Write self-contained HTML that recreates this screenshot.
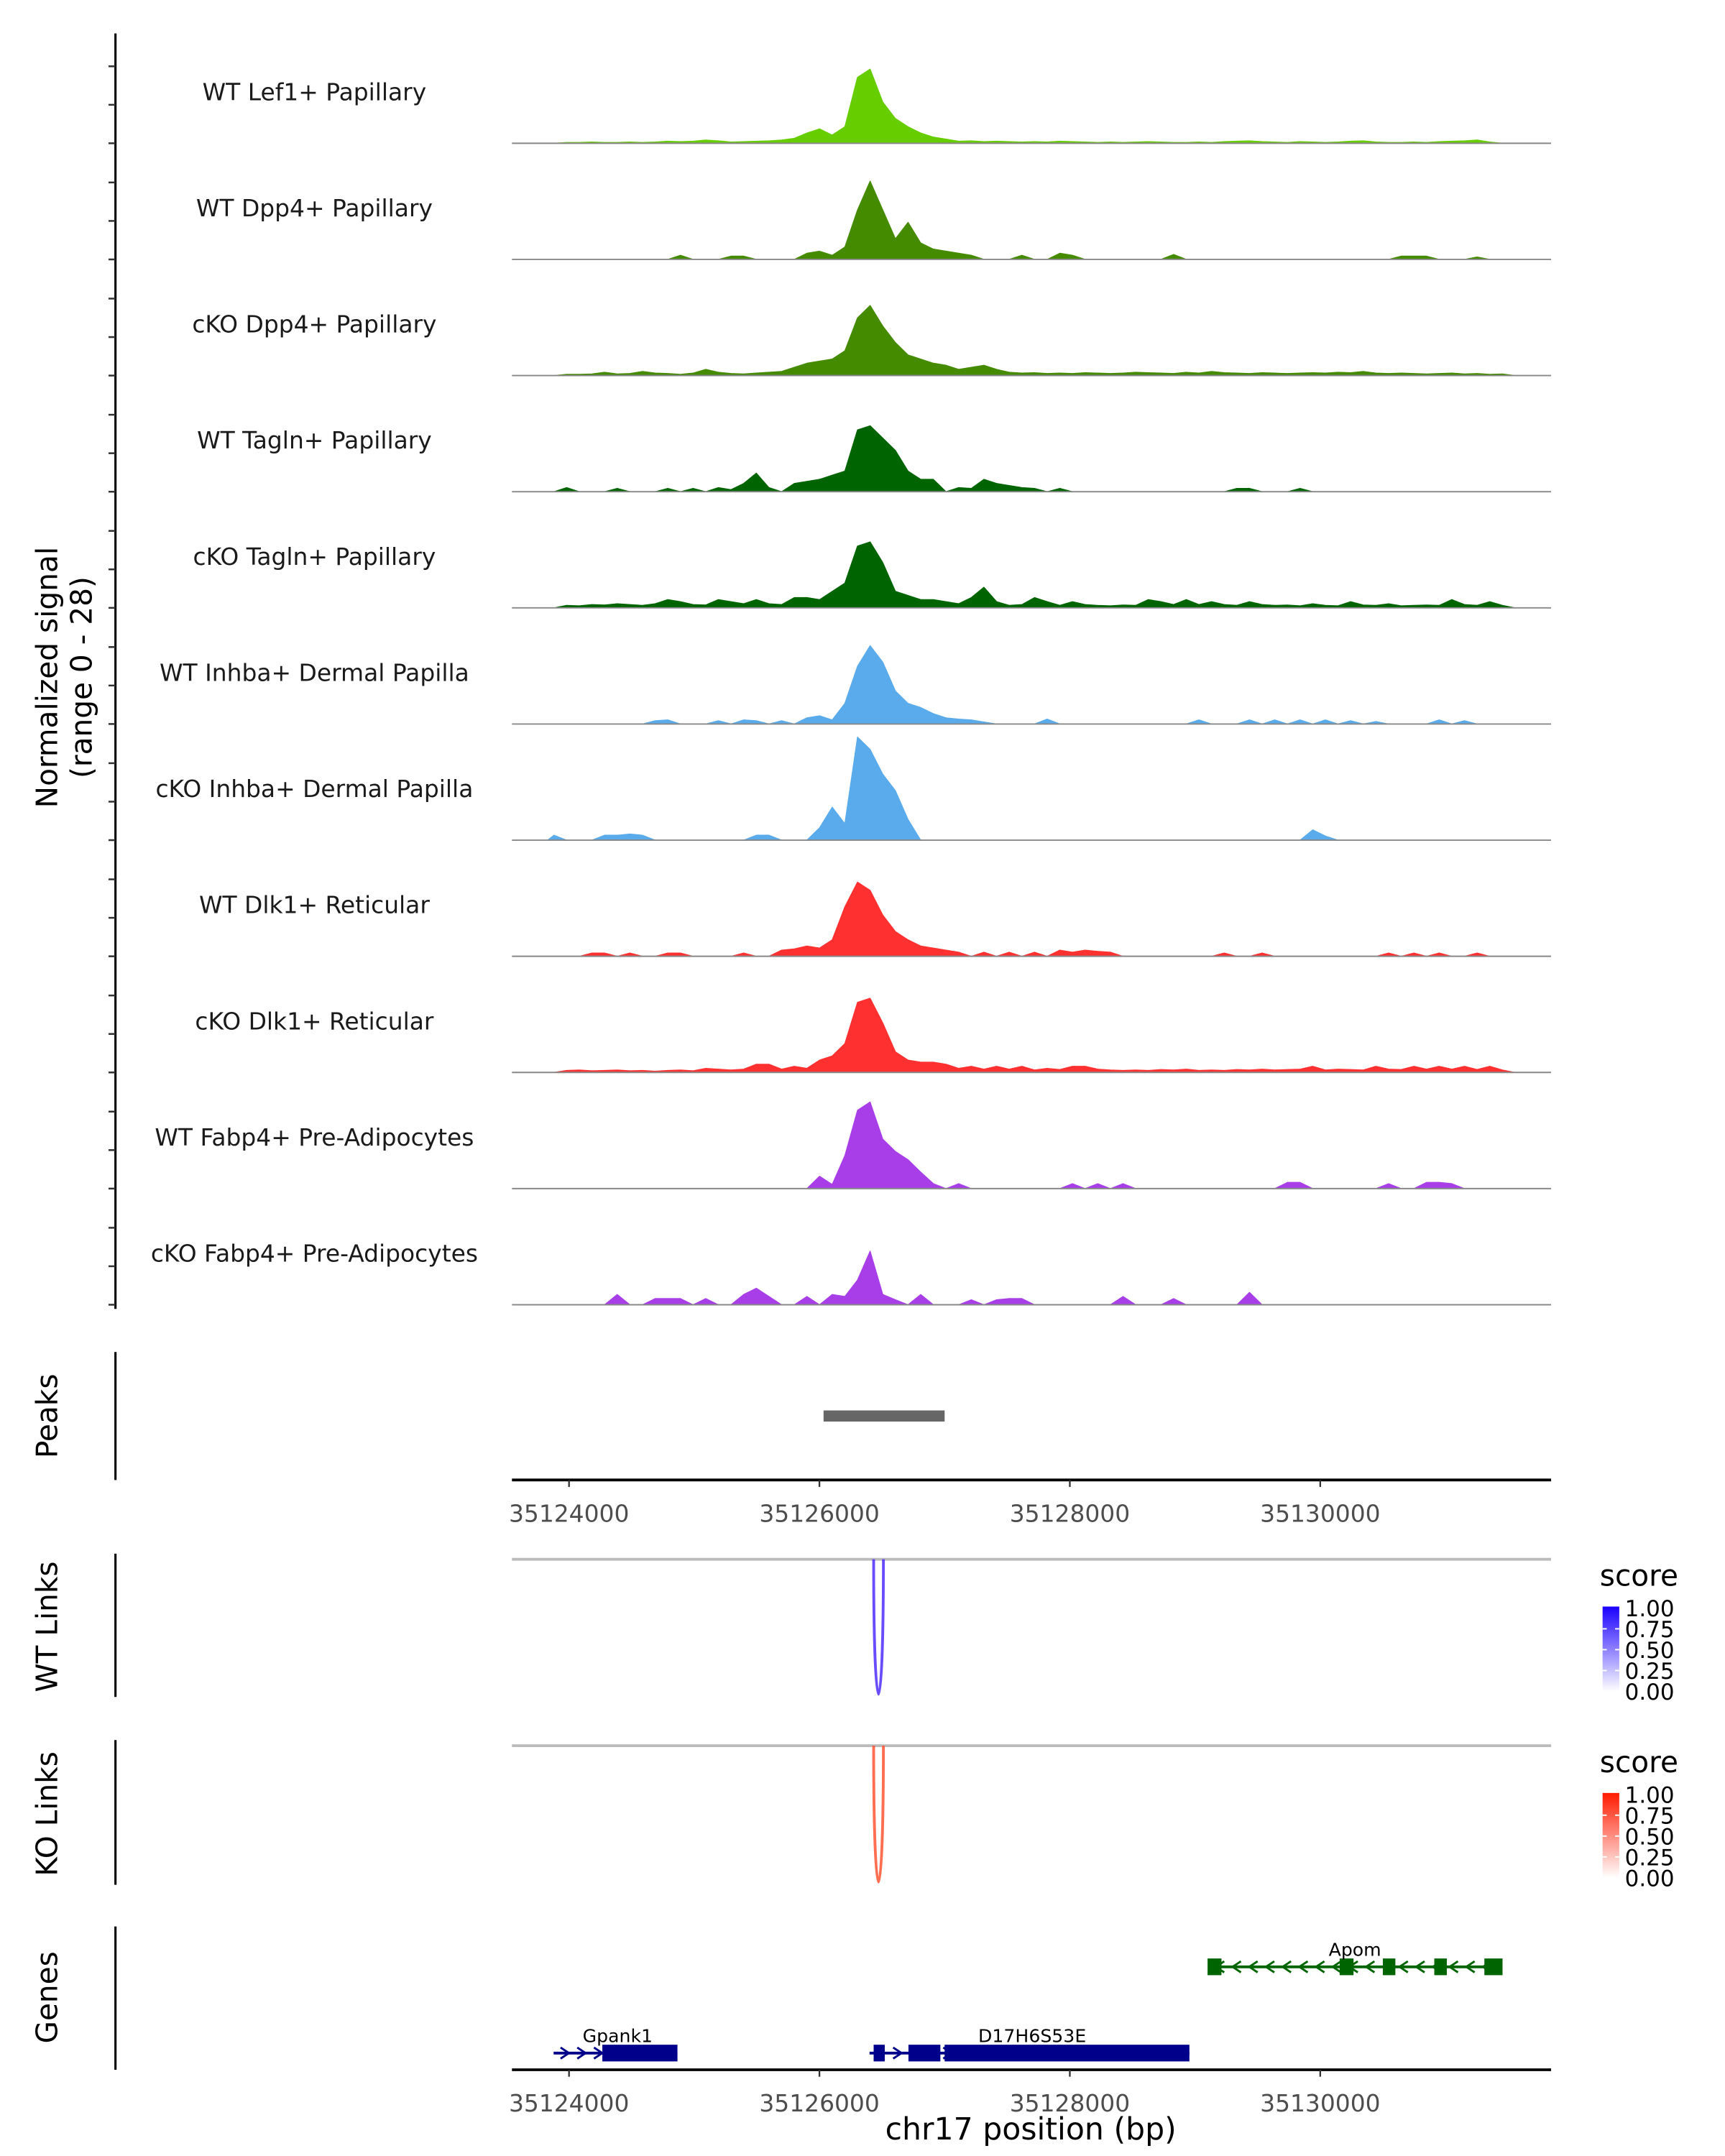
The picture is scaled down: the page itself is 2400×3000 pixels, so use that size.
<!DOCTYPE html>
<html><head><meta charset="utf-8"><style>
html,body{margin:0;padding:0;background:#fff;}
svg{display:block;font-family:"DejaVu Sans","Liberation Sans",sans-serif;}
</style></head><body>
<svg id="chart" width="2400" height="3000" viewBox="0 0 1240 1550" xmlns="http://www.w3.org/2000/svg">
<defs>
<linearGradient id="gBlue" x1="0" y1="1" x2="0" y2="0"><stop offset="0" stop-color="#ffffff"/><stop offset="1" stop-color="#1a00ff"/></linearGradient>
<linearGradient id="gRed" x1="0" y1="1" x2="0" y2="0"><stop offset="0" stop-color="#ffffff"/><stop offset="1" stop-color="#ff1a00"/></linearGradient>
</defs>
</svg>
<script>
// ---- data ----
const trackNames = ["WT Lef1+ Papillary","WT Dpp4+ Papillary","cKO Dpp4+ Papillary","WT Tagln+ Papillary","cKO Tagln+ Papillary","WT Inhba+ Dermal Papilla","cKO Inhba+ Dermal Papilla","WT Dlk1+ Reticular","cKO Dlk1+ Reticular","WT Fabp4+ Pre-Adipocytes","cKO Fabp4+ Pre-Adipocytes"];
const trackColors = ["#66cd00","#458b00","#458b00","#006400","#006400","#5aabeb","#5aabeb","#ff3030","#ff3030","#a83ee8","#a83ee8"];
const binStart = 35123880;
const binSize = 101;
const sigLef1 = [0,0.2,0.2,0.3,0.2,0.2,0.3,0.2,0.3,0.5,0.4,0.5,0.8,0.6,0.3,0.4,0.5,0.6,0.8,1.2,2.5,3.5,2,4,16,18,10,6,4,2.5,1.5,1,0.5,0.6,0.4,0.5,0.4,0.3,0.4,0.3,0.5,0.4,0.3,0.2,0.3,0.2,0.3,0.4,0.3,0.2,0.2,0.3,0.2,0.4,0.5,0.6,0.4,0.3,0.2,0.4,0.3,0.2,0.3,0.5,0.6,0.3,0.2,0.2,0.3,0.2,0.4,0.5,0.6,0.8,0.3,0,0,0];
const sigWtDpp4 = [0,0,0,0,0,0,0,0,0,0,1,0,0,0,0.8,0.8,0,0,0,0,1.5,2,1,3,12,19,12,5,9,4,2.5,2,1.5,1,0,0,0,1,0,0,1.5,1,0,0,0,0,0,0,0,1.2,0,0,0,0,0,0,0,0,0,0,0,0,0,0,0,0,0,0.8,0.8,0.8,0,0,0,0.6,0,0,0,0];
const sigKoDpp4 = [0,0.3,0.3,0.4,0.8,0.4,0.5,1,0.6,0.5,0.3,0.6,1.5,0.8,0.5,0.4,0.6,0.8,1,2,3,3.5,4,6,14,17,12,8,5,4,3,2.5,1.5,2,2.5,1.5,0.8,0.6,0.7,0.5,0.6,0.5,0.7,0.6,0.5,0.6,0.8,0.7,0.6,0.5,0.8,0.6,1,0.7,0.6,0.5,0.7,0.6,0.5,0.6,0.7,0.6,0.8,0.7,1,0.6,0.5,0.6,0.5,0.4,0.5,0.6,0.4,0.5,0.3,0.4,0,0];
const sigWtTagln = [0,1,0,0,0,0.8,0,0,0,0.8,0,0.8,0,1,0.5,2,4.5,1,0,2,2.5,3,4,5,15,16,13,10,5,3,3,0,1,0.8,3,2,1.5,1,0.8,0,0.8,0,0,0,0,0,0,0,0,0,0,0,0,0,0.8,0.8,0,0,0,0.8,0,0,0,0,0,0,0,0,0,0,0,0,0,0,0,0,0,0];
const sigKoTagln = [0,0.6,0.5,0.8,0.7,1,0.8,0.6,1,2,1.5,0.8,0.7,2,1.5,1,2,1,0.8,2.5,2.5,2,4,6,15,16,11,4,3,2,2,1.5,1,2.5,5,1.5,0.6,0.8,2.5,1.5,0.6,1.5,0.8,0.6,0.5,0.7,0.6,2,1.5,0.8,2,0.8,1.5,0.8,0.6,1.5,0.8,0.6,0.7,0.5,1,0.6,0.5,1.5,0.7,0.6,1,0.5,0.6,0.7,0.6,2,0.8,0.6,1.5,0.6,0,0];
const sigWtInhba = [0,0,0,0,0,0,0,0,0.8,1,0,0,0,0.8,0,1,0.8,0,0.8,0,1.5,2,1,5,14,19,15,8,5,4,2.5,1.5,1.2,1,0.5,0,0,0,0,1.2,0,0,0,0,0,0,0,0,0,0,0,1,0,0,0,1,0,1,0,1,0,1,0,0.8,0,0.6,0,0,0,0,1,0,0.8,0,0,0,0,0];
const sigKoInhba = [1.2,0,0,0,1.2,1.2,1.5,1.2,0,0,0,0,0,0,0,0,1.2,1.2,0,0,0,3,8,4,25,22,16,12,5,0,0,0,0,0,0,0,0,0,0,0,0,0,0,0,0,0,0,0,0,0,0,0,0,0,0,0,0,0,0,0,2.5,1,0,0,0,0,0,0,0,0,0,0,0,0,0,0,0,0];
const sigWtDlk1 = [0,0,0,0.8,0.8,0,0.8,0,0,0.8,0.8,0,0,0,0,0.8,0,0,1.5,1.8,2.5,2,4,12,18,16,10,6,4,2.5,2,1.5,1,0,1,0,1,0,1,0,1.5,1,1.5,1.2,1,0,0,0,0,0,0,0,0,0.8,0,0,0.8,0,0,0,0,0,0,0,0,0,0.8,0,0.8,0,0.8,0,0,0.8,0,0,0,0];
const sigKoDlk1 = [0,0.5,0.6,0.4,0.5,0.6,0.4,0.5,0.3,0.5,0.6,0.4,1,0.8,0.6,0.8,2,2,0.8,1.5,1,3,4,7,17,18,12,5,3,2.5,2.5,2,1,1.5,0.8,1.5,0.8,1.5,0.6,1,0.7,1.5,1.5,0.8,0.6,0.5,0.6,0.5,0.7,0.6,0.8,0.5,0.6,0.5,0.7,0.6,0.8,0.6,0.7,0.8,1.5,0.6,0.8,0.7,0.6,1.5,0.8,0.7,1.5,0.8,1.5,0.8,1.5,0.7,1.5,0.6,0,0];
const sigWtFabp4 = [0,0,0,0,0,0,0,0,0,0,0,0,0,0,0,0,0,0,0,0,0,3,1,8,19,21,12,9,7,4,1.2,0,1.2,0,0,0,0,0,0,0,0,1.2,0,1.2,0,1.2,0,0,0,0,0,0,0,0,0,0,0,0,1.5,1.5,0,0,0,0,0,0,1.2,0,0,1.5,1.5,1.2,0,0,0,0,0,0];
const sigKoFabp4 = [0,0,0,0,0,2.5,0,0,1.5,1.5,1.5,0,1.5,0,0,2.5,4,2,0,0,2,0,2.5,2,6,13,2.5,1.2,0,2.5,0,0,0,1.2,0,1.2,1.5,1.5,0,0,0,0,0,0,0,2,0,0,0,1.5,0,0,0,0,0,3,0,0,0,0,0,0,0,0,0,0,0,0,0,0,0,0,0,0,0,0,0,0];
const trackSignals = [sigLef1,sigWtDpp4,sigKoDpp4,sigWtTagln,sigKoTagln,sigWtInhba,sigKoInhba,sigWtDlk1,sigKoDlk1,sigWtFabp4,sigKoFabp4];
const signalMax = 28;
const xTicks = [35124000,35126000,35128000,35130000];
const peakStarts = [35126033];
const peakEnds = [35127000];
const wtLinkStart = [35126433]; const wtLinkEnd = [35126511]; const wtLinkScore = [0.8];
const koLinkStart = [35126433]; const koLinkEnd = [35126511]; const koLinkScore = [0.75];
const legendTicks = ["1.00","0.75","0.50","0.25","0.00"];
const geneNames = ["Apom","Gpank1","D17H6S53E"];
const geneStarts = [35129111,35123877,35126400];
const geneEnds = [35131444,35124866,35128955];
const geneStrand = [-1,1,1];
const geneRow = [0,1,1];
const geneColors = ["#006400","#00008b","#00008b"];
const exonGene = [0,0,0,0,0,1,2,2,2];
const exonStarts = [35129100,35130155,35130500,35130911,35131311,35124266,35126433,35126711,35127000];
const exonEnds = [35129211,35130266,35130600,35131011,35131456,35124866,35126522,35126966,35128955];

// ---- scales ----
const X0=368, X1=1115, BP0=35123544, BP1=35131844;
const xs = bp => X0 + (bp-BP0)*(X1-X0)/(BP1-BP0);
const trackBase = i => 103 + i*83.5;
const trackH = 83;
const ys = (i,v) => trackBase(i) - v/signalMax*trackH;

const svg=document.getElementById('chart');
const NS="http://www.w3.org/2000/svg";
function mk(tag,attrs,parent){const e=document.createElementNS(NS,tag);for(const k in attrs)e.setAttribute(k,attrs[k]);(parent||svg).appendChild(e);return e;}
function txt(s,attrs,parent){const e=mk('text',attrs,parent);e.textContent=s;return e;}

// left signal axis
let g=mk('g',{});


mk('line',{x1:83,y1:24,x2:83,y2:941,stroke:'#000','stroke-width':1.6},g);
for(let i=0;i<trackNames.length;i++){for(let k=0;k<3;k++){const y=trackBase(i)-k*trackH/3;mk('line',{x1:78,y1:y,x2:83,y2:y,stroke:'#333','stroke-width':1.3},g);}}
let t=txt('Normalized signal',{x:0,y:0,'font-size':21,'text-anchor':'middle',transform:'translate(41,487) rotate(-90)'});


t=txt('(range 0 - 28)',{x:0,y:0,'font-size':21,'text-anchor':'middle',transform:'translate(66,487) rotate(-90)'});



// tracks
for(let i=0;i<trackNames.length;i++){
  const tg=mk('g',{});
  
  
  const lab=txt(trackNames[i],{x:226,y:trackBase(i)-31,'font-size':17,'text-anchor':'middle',fill:'#1a1a1a'},tg);
  
  
  const sig=trackSignals[i];
  let d='M'+xs(binStart-binSize/2)+','+trackBase(i);
  sig.forEach((v,j)=>{d+=' L'+xs(binStart+j*binSize).toFixed(2)+','+ys(i,v).toFixed(2);});
  d+=' L'+xs(binStart+(sig.length-1)*binSize+binSize/2)+','+trackBase(i)+' Z';
  const a=mk('path',{d:d,fill:trackColors[i],stroke:trackColors[i],'stroke-width':0.6,'stroke-linejoin':'round'},tg);
  
  
  mk('line',{x1:X0,y1:trackBase(i),x2:X1,y2:trackBase(i),stroke:'#888','stroke-width':1},tg);
}

// peaks
g=mk('g',{});


mk('line',{x1:83,y1:972,x2:83,y2:1064,stroke:'#000','stroke-width':1.6},g);
t=txt('Peaks',{x:0,y:0,'font-size':21,'text-anchor':'middle',transform:'translate(41,1018) rotate(-90)'},g);


peakStarts.forEach((s,j)=>{const r=mk('rect',{x:xs(s),y:1014,width:xs(peakEnds[j])-xs(s),height:8,fill:'#666'},g);

});
function xAxis(y,name){const ag=mk('g',{});


mk('line',{x1:X0,y1:y,x2:X1,y2:y,stroke:'#000','stroke-width':2},ag);
xTicks.forEach(v=>{mk('line',{x1:xs(v),y1:y,x2:xs(v),y2:y+5,stroke:'#333','stroke-width':1.2},ag);
txt(String(v),{x:xs(v),y:y+30,'font-size':17,'text-anchor':'middle',fill:'#4d4d4d'},ag);});}
xAxis(1064,'peaks-x-axis');

// links
function linkTrack(top,bottom,title,starts,ends,scores,color,grad,name){
  const lg=mk('g',{});
  
  
  mk('line',{x1:83,y1:top-4,x2:83,y2:bottom+2,stroke:'#000','stroke-width':1.6},lg);
  const tt=txt(title,{x:0,y:0,'font-size':21,'text-anchor':'middle',transform:'translate(41,'+((top+bottom)/2)+') rotate(-90)'},lg);
  
  
  mk('line',{x1:X0,y1:top,x2:X1,y2:top,stroke:'#bbb','stroke-width':2},lg);
  starts.forEach((s,j)=>{const x1=xs(s),x2=xs(ends[j]);const depth=(bottom-top)*4/3;
    const p=mk('path',{d:`M${x1},${top} C${x1},${top+depth} ${x2},${top+depth} ${x2},${top}`,fill:'none',stroke:color,'stroke-width':2,'stroke-opacity':0.4+0.6*scores[j]},lg);
    
    });
  const leg=mk('g',{},lg);
  
  
  txt('score',{x:1150,y:top+19,'font-size':21},leg);
  const by=top+34;
  mk('rect',{x:1152,y:by,width:12,height:61,fill:'url(#'+grad+')'},leg);
  legendTicks.forEach((l,k)=>{const yy=by+1+k*15;
    if(k>0&&k<4){mk('line',{x1:1152,y1:yy,x2:1155,y2:yy,stroke:'#fff'},leg);mk('line',{x1:1161,y1:yy,x2:1164,y2:yy,stroke:'#fff'},leg);}
    txt(l,{x:1168,y:yy+6,'font-size':16},leg);});
}
linkTrack(1121,1218,'WT Links',wtLinkStart,wtLinkEnd,wtLinkScore,'#5533ff','gBlue','wt-links-track');
linkTrack(1255,1353,'KO Links',koLinkStart,koLinkEnd,koLinkScore,'#ff5533','gRed','ko-links-track');

// genes
g=mk('g',{});


mk('line',{x1:83,y1:1385,x2:83,y2:1488,stroke:'#000','stroke-width':1.6},g);
t=txt('Genes',{x:0,y:0,'font-size':21,'text-anchor':'middle',transform:'translate(41,1436) rotate(-90)'},g);


const rowY=[1414,1476];
geneNames.forEach((n,j)=>{
  const gg=mk('g',{},g);
  
  
  const y=rowY[geneRow[j]], xa=xs(geneStarts[j]), xb=xs(geneEnds[j]), c=geneColors[j];
  mk('line',{x1:xa,y1:y,x2:xb,y2:y,stroke:c,'stroke-width':2},gg);
  for(let x=xa+8;x<xb-4;x+=12){const dx=geneStrand[j]*3;mk('polyline',{points:`${x-dx},${y-4} ${x+dx},${y} ${x-dx},${y+4}`,fill:'none',stroke:c,'stroke-width':1.5},gg);}
  exonGene.forEach((gi,k)=>{if(gi!==j)return;const ex=mk('rect',{x:xs(exonStarts[k]),y:y-6,width:xs(exonEnds[k])-xs(exonStarts[k]),height:12,fill:c},gg);
    
    });
  txt(n,{x:j===1?444:(j===2?742:974),y:y-8,'font-size':13,'text-anchor':'middle'},gg);
});
xAxis(1488,'genes-x-axis');
t=txt('chr17 position (bp)',{x:741,y:1538,'font-size':22,'text-anchor':'middle'});


</script>
</body></html>
